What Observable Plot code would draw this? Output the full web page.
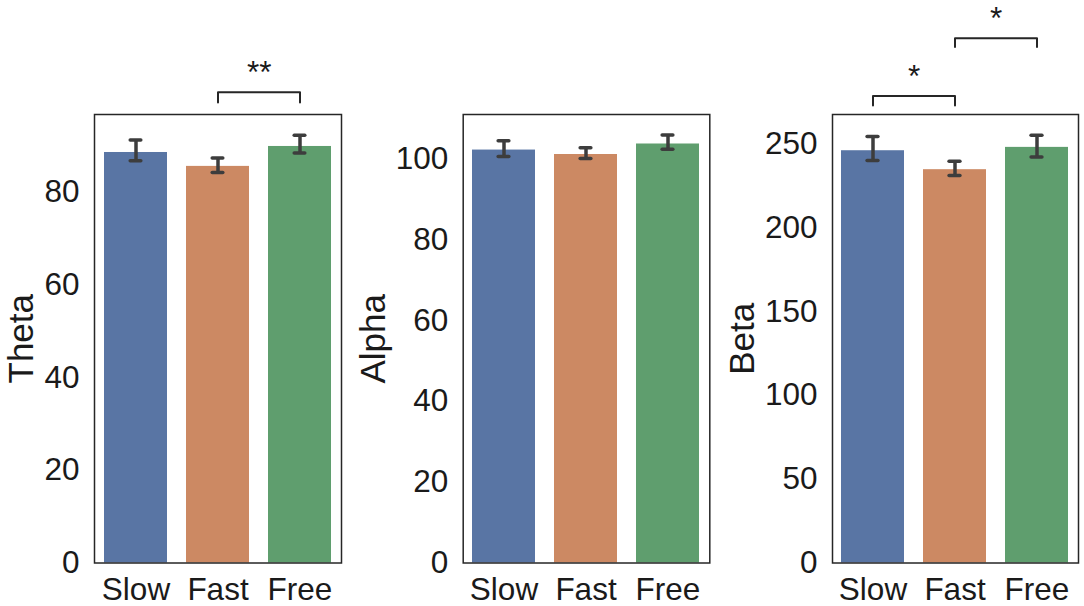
<!DOCTYPE html>
<html><head><meta charset="utf-8">
<script src="https://cdn.jsdelivr.net/npm/d3@7"></script>
<script src="https://cdn.jsdelivr.net/npm/@observablehq/plot@0.6"></script>
<style>
body{margin:0;background:#fff;}
#wrap{position:relative;width:1084px;height:606px;overflow:hidden;background:#fff;}
#wrap svg{position:absolute;top:0;}
</style></head><body><div id="wrap"></div>
<script>
const categories = ["Slow", "Fast", "Free"];
const colors = ["#5975a4", "#cc8963", "#5f9e6e"];

const thetaMean = [88.6, 85.6, 89.9];
const thetaLo   = [86.8, 84.3, 88.5];
const thetaHi   = [91.3, 87.4, 92.3];
const thetaTicks = [0, 20, 40, 60, 80];
const thetaMax = 96.8;
const thetaBrackets = [{from: "Fast", to: "Free", top: 101.6, leg: 99.4, label: "**"}];

const alphaMean = [102.2, 101.1, 103.7];
const alphaLo   = [100.6, 100.1, 102.4];
const alphaHi   = [104.5, 102.8, 105.9];
const alphaTicks = [0, 20, 40, 60, 80, 100];
const alphaMax = 111.0;
const alphaBrackets = [];

const betaMean = [245.8, 234.5, 247.8];
const betaLo   = [240.0, 231.1, 242.0];
const betaHi   = [254.3, 239.6, 255.1];
const betaTicks = [0, 50, 100, 150, 200, 250];
const betaMax = 267.4;
const betaBrackets = [
  {from: "Slow", to: "Fast", top: 278.4, leg: 272.8, label: "*"},
  {from: "Fast", to: "Free", top: 312.9, leg: 307.6, label: "*"}
];

function panel({label, mean, lo, hi, ticks, ymax, brackets, left, width, marginLeft, marginRight, labelGap}) {
  const rows = categories.map((c, i) => ({cat: c, mean: mean[i], lo: lo[i], hi: hi[i]}));
  const pi = 0.23, po = 0.115;
  const step = (width - marginLeft - marginRight) / (categories.length - pi + 2 * po);
  const bw = step * (1 - pi);
  const capW = 11;
  const ink = "#3d3d3d";
  const lines = brackets.flatMap((b, k) => [
    {k, x: b.from, y: b.leg}, {k, x: b.from, y: b.top},
    {k, x: b.to, y: b.top}, {k, x: b.to, y: b.leg}
  ]);
  const svg = Plot.plot({
    width, height: 606, marginLeft, marginRight, marginTop: 114, marginBottom: 43.5,
    style: {fontFamily: "'Liberation Sans', Arial, sans-serif", fontSize: "31.5px", color: "#1a1a1a", background: "transparent", overflow: "visible"},
    x: {domain: categories, paddingInner: pi, paddingOuter: po},
    y: {domain: [0, ymax]},
    color: {domain: categories, range: colors},
    marks: [
      Plot.barY(rows, {x: "cat", y: "mean", fill: "cat"}),
      Plot.ruleX(rows, {x: "cat", y1: "lo", y2: "hi", stroke: ink, strokeWidth: 3.5}),
      Plot.tickY(rows, {x: "cat", y: "lo", stroke: ink, strokeWidth: 3.5, strokeLinecap: "round", inset: (bw - capW) / 2}),
      Plot.tickY(rows, {x: "cat", y: "hi", stroke: ink, strokeWidth: 3.5, strokeLinecap: "round", inset: (bw - capW) / 2}),
      Plot.frame({stroke: "#262626", strokeWidth: 1.5}),
      Plot.axisY({ticks, tickSize: 0, tickPadding: 15, label: null}),
      Plot.axisX({tickSize: 0, tickPadding: 15, label: null}),
      Plot.text([label], {frameAnchor: "left", text: d => d, rotate: -90, textAnchor: "middle", lineAnchor: "bottom", dx: -labelGap, fontSize: 35}),
      Plot.line(lines, {x: "x", y: "y", z: "k", stroke: "#262626", strokeWidth: 2}),
      Plot.text(brackets, {x: "from", y: "top", text: "label", dx: step / 2, dy: -9, lineAnchor: "bottom", fontSize: 31.5})
    ]
  });
  svg.style.left = left + "px";
  document.getElementById("wrap").appendChild(svg);
}

panel({label: "Theta", mean: thetaMean, lo: thetaLo, hi: thetaHi, ticks: thetaTicks, ymax: thetaMax, brackets: thetaBrackets,
       left: 0, width: 360, marginLeft: 94, marginRight: 19, labelGap: 62});
panel({label: "Alpha", mean: alphaMean, lo: alphaLo, hi: alphaHi, ticks: alphaTicks, ymax: alphaMax, brackets: alphaBrackets,
       left: 360, width: 360, marginLeft: 102.7, marginRight: 10.7, labelGap: 78});
panel({label: "Beta", mean: betaMean, lo: betaLo, hi: betaHi, ticks: betaTicks, ymax: betaMax, brackets: betaBrackets,
       left: 720, width: 364, marginLeft: 112, marginRight: 6, labelGap: 79});
</script></body></html>
